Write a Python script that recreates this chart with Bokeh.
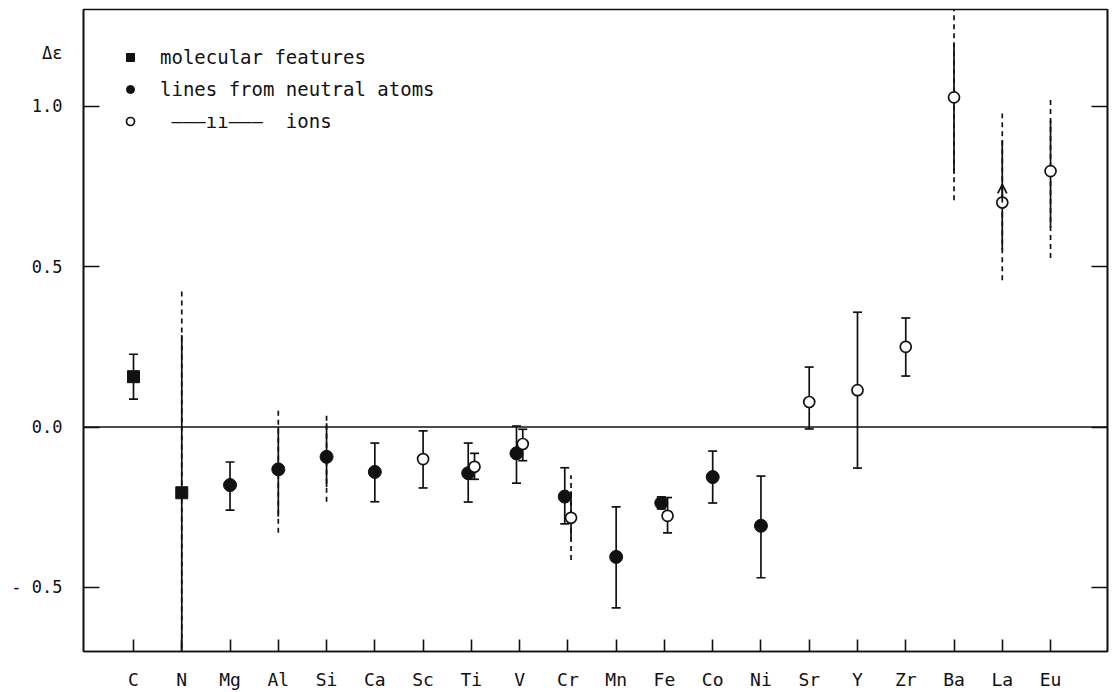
from bokeh.plotting import figure
from bokeh.models import (Range1d, FixedTicker, LinearAxis, Span, Legend, LegendItem,
                          Arrow, OpenHead, ColumnDataSource)
from bokeh.embed import file_html
from bokeh.resources import INLINE

# ---------------- data ----------------
elements = ["C", "N", "Mg", "Al", "Si", "Ca", "Sc", "Ti", "V", "Cr",
            "Mn", "Fe", "Co", "Ni", "Sr", "Y", "Zr", "Ba", "La", "Eu"]

y_ticks = [-0.5, 0.0, 0.5, 1.0]
y_tick_labels = ["- 0.5", "0.0", "0.5", "1.0"]
y_title = "\u0394\u03b5"
y_title_at = 1.165

# molecular features
mol_el = ["C", "N"]
mol_val = [0.157, -0.205]
mol_cap_el = ["C"]
mol_cap_lo = [0.087]
mol_cap_hi = [0.227]

# lines from neutral atoms
neu_el = ["Mg", "Al", "Si", "Ca", "Ti", "V", "Cr", "Mn", "Fe", "Co", "Ni"]
neu_val = [-0.181, -0.132, -0.093, -0.140, -0.144, -0.082, -0.217, -0.405, -0.237, -0.156, -0.308]
neu_cap_el = ["Mg", "Ca", "Ti", "V", "Cr", "Mn", "Fe", "Co", "Ni"]
neu_cap_lo = [-0.259, -0.233, -0.234, -0.175, -0.302, -0.564, -0.255, -0.237, -0.470]
neu_cap_hi = [-0.109, -0.050, -0.050, 0.003, -0.127, -0.249, -0.218, -0.075, -0.153]

# ions
ion_el = ["Sc", "Ti", "V", "Cr", "Fe", "Sr", "Y", "Zr", "Ba", "La", "Eu"]
ion_val = [-0.100, -0.124, -0.053, -0.283, -0.277, 0.078, 0.115, 0.250, 1.028, 0.700, 0.798]
ion_cap_el = ["Sc", "Ti", "V", "Fe", "Sr", "Y", "Zr"]
ion_cap_lo = [-0.190, -0.163, -0.105, -0.330, -0.006, -0.128, 0.159]
ion_cap_hi = [-0.012, -0.082, -0.007, -0.220, 0.187, 0.358, 0.340]

# error bars with a solid core and dashed (uncertain) extensions
ext_el = ["N", "Al", "Si", "Cr", "Ba", "La", "Eu"]
ext_kind = ["mol", "neu", "neu", "ion", "ion", "ion", "ion"]
ext_solid_lo = [-0.800, -0.280, -0.187, -0.350, 0.790, 0.551, 0.623]
ext_solid_hi = [0.287, 0.000, 0.012, -0.200, 1.196, 0.894, 0.956]
ext_dash_lo = [-0.800, -0.330, -0.233, -0.415, 0.707, 0.458, 0.527]
ext_dash_hi = [0.433, 0.062, 0.044, -0.150, 1.400, 0.978, 1.028]

# La: lower limit arrow
arrow_el = "La"
arrow_from = 0.700
arrow_to = 0.757

# ---------------- helpers ----------------
paired = set(neu_el) & set(ion_el)
SHIFT = 0.065


def xpos(el, kind):
    i = elements.index(el)
    if el in paired:
        return i - SHIFT if kind == "neu" else i + SHIFT
    return float(i)


FONT = "DejaVu Sans Mono"
INK = "#111111"
LW = 1.7

p = figure(width=1114, height=692, output_backend="svg", toolbar_location=None,
           x_range=Range1d(-1.036, 20.18), y_range=Range1d(-0.70, 1.302),
           min_border_left=83, min_border_right=7, min_border_top=9, min_border_bottom=40,
           x_axis_location=None, y_axis_location=None)
p.background_fill_color = "white"
p.border_fill_color = "white"
p.outline_line_color = INK
p.outline_line_width = 1.6
p.xgrid.visible = False
p.ygrid.visible = False

# axes
xax = LinearAxis(ticker=FixedTicker(ticks=list(range(len(elements)))),
                 major_label_overrides={i: e for i, e in enumerate(elements)})
# left axis: tick marks drawn as "minor" ticks so the Δε title can sit in the label column
ylabels = {t: l for t, l in zip(y_ticks, y_tick_labels)}
ylabels[y_title_at] = y_title
yax = LinearAxis(ticker=FixedTicker(ticks=y_ticks + [y_title_at], minor_ticks=y_ticks),
                 major_label_overrides=ylabels)
yax_r = LinearAxis(ticker=FixedTicker(ticks=y_ticks),
                   major_label_overrides={t: "" for t in y_ticks})
for ax, tin in ((xax, 12), (yax_r, 16)):
    ax.major_tick_in = tin
    ax.major_tick_out = 0
    ax.minor_tick_line_color = None
    ax.minor_tick_in = 0
    ax.minor_tick_out = 0
    ax.major_tick_line_color = INK
    ax.major_tick_line_width = 1.6
for ax in (xax, yax, yax_r):
    ax.axis_line_color = INK
    ax.axis_line_width = 1.6
    ax.major_label_text_font = FONT
    ax.major_label_text_color = INK
yax.major_tick_line_color = None
yax.major_tick_in = 0
yax.major_tick_out = 0
yax.minor_tick_in = 16
yax.minor_tick_out = 0
yax.minor_tick_line_color = INK
yax.minor_tick_line_width = 1.6
xax.major_label_text_font_size = "18px"
xax.major_label_standoff = 17
yax.major_label_text_font_size = "17px"
yax.major_label_standoff = 21
yax_r.major_label_standoff = 0
p.add_layout(xax, "below")
p.add_layout(yax, "left")
p.add_layout(yax_r, "right")

p.add_layout(Span(location=0, dimension="width", line_color=INK, line_width=1.5))

# dashed extensions then solid cores
ext_x = [xpos(e, k) for e, k in zip(ext_el, ext_kind)]
p.segment(x0=ext_x, y0=ext_dash_lo, x1=ext_x, y1=ext_dash_hi,
          line_color=INK, line_width=LW, line_dash="5 4")
p.segment(x0=ext_x, y0=ext_solid_lo, x1=ext_x, y1=ext_solid_hi,
          line_color=INK, line_width=LW)

# capped error bars
for els, lo, hi, kind in ((mol_cap_el, mol_cap_lo, mol_cap_hi, "mol"),
                          (neu_cap_el, neu_cap_lo, neu_cap_hi, "neu"),
                          (ion_cap_el, ion_cap_lo, ion_cap_hi, "ion")):
    xs = [xpos(e, kind) for e in els]
    p.segment(x0=xs, y0=lo, x1=xs, y1=hi, line_color=INK, line_width=LW)
    p.scatter(x=xs + xs, y=lo + hi, marker="dash", size=9, line_color=INK, line_width=LW)

# La arrow
ax_ = xpos(arrow_el, "ion")
p.add_layout(Arrow(end=OpenHead(size=9, line_width=LW, line_color=INK),
                   x_start=ax_, y_start=arrow_from, x_end=ax_, y_end=arrow_to,
                   line_color=INK, line_width=LW))

# markers
src_mol = ColumnDataSource(dict(x=[xpos(e, "mol") for e in mol_el], y=mol_val))
src_neu = ColumnDataSource(dict(x=[xpos(e, "neu") for e in neu_el], y=neu_val))
src_ion = ColumnDataSource(dict(x=[xpos(e, "ion") for e in ion_el], y=ion_val))
r_mol = p.scatter("x", "y", source=src_mol, marker="square", size=12,
                  fill_color=INK, line_color=INK)
r_neu = p.scatter("x", "y", source=src_neu, marker="circle", size=13,
                  fill_color=INK, line_color=INK)
r_ion = p.scatter("x", "y", source=src_ion, marker="circle", size=11,
                  fill_color="white", line_color=INK, line_width=1.7)

legend = Legend(items=[LegendItem(label="molecular features", renderers=[r_mol]),
                       LegendItem(label="lines from neutral atoms", renderers=[r_neu]),
                       LegendItem(label=" \u2014\u2014\u2014\u0131\u0131\u2014\u2014\u2014  ions",
                                  renderers=[r_ion])],
                location="top_left", margin=37, padding=0, spacing=10,
                glyph_width=20, glyph_height=22, label_height=22, label_standoff=20,
                label_text_font=FONT, label_text_font_size="19px", label_text_color=INK,
                border_line_color=None, background_fill_alpha=0)
p.add_layout(legend)

open("out.html", "w").write(file_html(p, INLINE))
